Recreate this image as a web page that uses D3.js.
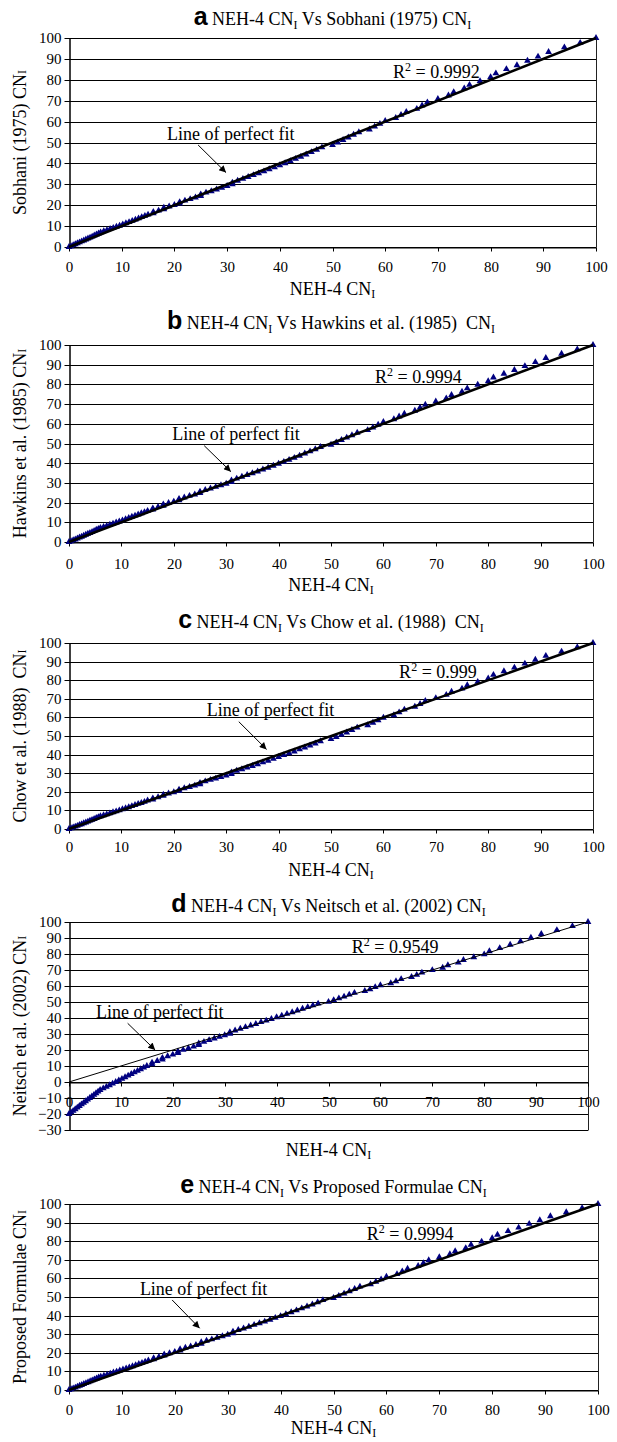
<!DOCTYPE html>
<html><head><meta charset="utf-8">
<script src="https://cdn.jsdelivr.net/npm/d3@7"></script>
<style>
body{margin:0;background:#fff}
svg{display:block}
text{font-family:"Liberation Serif","Times New Roman",serif;white-space:pre;fill:#000}
</style>
</head><body>
<svg id="chart" width="617" height="1442"></svg>
<script>
// NEH-4 CN_I (x) for CN_II = 0..100
const neh4CN = [
 0,0.4,0.8,1.2,1.6,2,2.4,2.8,3.2,3.6,
 4,4.4,4.8,5.2,5.6,6,6.6,7.2,7.8,8.4,
 9,9.6,10.2,10.8,11.4,12,12.6,13.2,13.8,14.4,
 15,16,16,17,18,18,19,20,21,21,
 22,23,24,25,25,26,27,28,29,30,
 31,31,32,33,34,35,36,37,38,39,
 40,41,42,43,44,45,46,47,48,50,
 51,52,53,54,55,57,58,59,60,62,
 63,64,66,67,68,70,72,73,75,76,
 78,80,81,83,85,87,89,91,94,97,
 100];
const sobhaniCN = [
 0,0.4,0.9,1.3,1.8,2.2,2.7,3.1,3.6,4.1,
 4.5,5.0,5.5,6.0,6.5,7.0,7.6,8.1,8.6,9.1,
 9.7,10.2,10.8,11.4,11.9,12.5,13.1,13.7,14.3,14.9,
 15.5,16.1,16.8,17.4,18.1,18.8,19.4,20.1,20.8,21.5,
 22.2,22.9,23.7,24.4,25.2,26.0,26.7,27.5,28.3,29.2,
 30.0,30.8,31.7,32.6,33.5,34.4,35.3,36.2,37.2,38.1,
 39.1,40.1,41.1,42.2,43.2,44.3,45.4,46.5,47.7,48.8,
 50.0,51.2,52.4,53.7,54.9,56.2,57.6,58.9,60.3,61.7,
 63.2,64.6,66.1,67.7,69.2,70.8,72.5,74.1,75.9,77.6,
 79.4,81.3,83.1,85.1,87.0,89.1,91.1,93.3,95.5,97.7,
 100];
const hawkinsCN = [
 0,0.4,0.9,1.3,1.8,2.3,2.7,3.2,3.7,4.2,
 4.6,5.1,5.6,6.2,6.7,7.2,7.7,8.2,8.8,9.3,
 9.9,10.4,11.0,11.6,12.2,12.8,13.4,14.0,14.6,15.2,
 15.8,16.5,17.1,17.8,18.4,19.1,19.8,20.5,21.2,21.9,
 22.6,23.4,24.1,24.9,25.6,26.4,27.2,28.0,28.8,29.6,
 30.5,31.3,32.2,33.1,34.0,34.9,35.8,36.8,37.7,38.7,
 39.7,40.7,41.7,42.7,43.8,44.9,46.0,47.1,48.2,49.4,
 50.6,51.8,53.0,54.2,55.5,56.8,58.1,59.5,60.9,62.3,
 63.7,65.1,66.6,68.2,69.7,71.3,72.9,74.6,76.3,78.0,
 79.8,81.6,83.5,85.4,87.3,89.3,91.3,93.4,95.6,97.8,
 100];
const chowCN = [
 0,0.4,0.9,1.3,1.7,2.2,2.6,3.1,3.5,4.0,
 4.5,4.9,5.4,5.9,6.4,6.9,7.4,7.9,8.4,9.0,
 9.5,10.0,10.6,11.2,11.7,12.3,12.9,13.5,14.0,14.6,
 15.3,15.9,16.5,17.1,17.8,18.4,19.1,19.8,20.5,21.2,
 21.9,22.6,23.3,24.1,24.8,25.6,26.4,27.1,27.9,28.8,
 29.6,30.4,31.3,32.1,33.0,33.9,34.8,35.8,36.7,37.7,
 38.7,39.7,40.7,41.7,42.8,43.8,44.9,46.0,47.2,48.3,
 49.5,50.7,51.9,53.2,54.5,55.8,57.1,58.4,59.8,61.2,
 62.7,64.2,65.7,67.2,68.8,70.4,72.1,73.8,75.5,77.3,
 79.1,80.9,82.9,84.8,86.8,88.9,91.0,93.1,95.4,97.7,
 100];
const neitschCN = [
 -20,-19,-18,-17,-16,-15,-14,-13,-12,-11,
 -10,-9,-8,-7,-6,-5,-4,-3,-2,-1,
 0,1,2,3,4,5,6,7,8,9,
 10,11.1,12.1,13.1,14.1,15.1,16.1,17.1,18.1,19.1,
 20.1,21.1,22.1,23.1,24.1,25.1,26.2,27.2,28.2,29.2,
 30.2,31.2,32.2,33.3,34.3,35.3,36.3,37.4,38.4,39.4,
 40.5,41.5,42.6,43.6,44.7,45.8,46.8,47.9,49.0,50.1,
 51.2,52.3,53.4,54.6,55.7,56.9,58.0,59.3,60.5,61.7,
 63.0,64.3,65.6,67.0,68.4,69.9,71.4,73.0,74.6,76.3,
 78.0,79.8,81.7,83.7,85.8,87.9,90.2,92.5,94.9,97.4,
 100];
const proposedCN = [
 0,0.4,0.9,1.3,1.8,2.3,2.7,3.2,3.7,4.2,
 4.7,5.2,5.7,6.2,6.7,7.2,7.7,8.3,8.8,9.4,
 9.9,10.5,11.0,11.6,12.2,12.8,13.4,14.0,14.6,15.2,
 15.9,16.5,17.1,17.8,18.5,19.1,19.8,20.5,21.2,21.9,
 22.7,23.4,24.2,24.9,25.7,26.5,27.2,28.1,28.9,29.7,
 30.5,31.4,32.3,33.1,34.0,35.0,35.9,36.8,37.8,38.8,
 39.7,40.7,41.8,42.8,43.9,44.9,46.0,47.2,48.3,49.5,
 50.6,51.8,53.1,54.3,55.6,56.9,58.2,59.5,60.9,62.3,
 63.8,65.2,66.7,68.2,69.8,71.4,73.0,74.6,76.3,78.1,
 79.8,81.6,83.5,85.4,87.3,89.3,91.3,93.4,95.6,97.8,
 100];

const panelLetters = ["a","b","c","d","e"];
const titleNames = ["Sobhani (1975) ", "Hawkins et al. (1985)  ", "Chow et al. (1988)  ", "Neitsch et al. (2002) ", "Proposed Formulae "];
const yAxisNames = ["Sobhani (1975) CN", "Hawkins et al. (1985) CN", "Chow et al. (1988)  CN", "Neitsch et al. (2002) CN", "Proposed Formulae CN"];
const r2Labels = ["0.9992","0.9994","0.999","0.9549","0.9994"];
const xTicks = [0,10,20,30,40,50,60,70,80,90,100];
const yTicksStd = [0,10,20,30,40,50,60,70,80,90,100];
const yTicksNeitsch = [-30,-20,-10,0,10,20,30,40,50,60,70,80,90,100];
const fitLabel = "Line of perfect fit";
const xAxisName = "NEH-4 CN";

const seriesY = [sobhaniCN, hawkinsCN, chowCN, neitschCN, proposedCN];
const seriesYTicks = [yTicksStd, yTicksStd, yTicksStd, yTicksNeitsch, yTicksStd];

// layout (pixels) and annotation anchors (data units)
const layout = [
 {left:69,right:596,top:38,bottom:247,yMin:0,titleY:25,xLabelY:272,xTitleY:295,fitW:2.5,fitText:[18.6,51.2],arrow:[24.5,48.8,29.8,35.6],r2:[61.5,80.9]},
 {left:69,right:593,top:345,bottom:542,yMin:0,titleY:329,xLabelY:569,xTitleY:591,fitW:2.5,fitText:[19.7,51.8],arrow:[25.8,48.9,30.9,35.7],r2:[58.4,80.7]},
 {left:69,right:593,top:643,bottom:829,yMin:0,titleY:628,xLabelY:852,xTitleY:876,fitW:2.5,fitText:[26.3,60.8],arrow:[32.4,57.7,37.7,42.8],r2:[63.0,81.2]},
 {left:69,right:588,top:922,bottom:1130,yMin:-30,titleY:912,xLabelY:1107,xTitleY:1156,fitW:1,fitText:[5.2,40],arrow:[11.3,36.7,16.6,20],r2:[54.5,80.6]},
 {left:69,right:598,top:1204,bottom:1390,yMin:0,titleY:1193,xLabelY:1415,xTitleY:1434,fitW:2.5,fitText:[13.4,51.1],arrow:[19.5,48.4,24.7,33.2],r2:[56.3,80.6]}
];

const svg = d3.select("#chart");
svg.append("rect").attr("width",617).attr("height",1442).attr("fill","#fff");
svg.append("defs").append("marker").attr("id","arr")
  .attr("viewBox","0 0 10 10").attr("refX",10).attr("refY",5)
  .attr("markerWidth",9).attr("markerHeight",7).attr("markerUnits","userSpaceOnUse")
  .attr("orient","auto")
  .append("path").attr("d","M0,0L10,5L0,10z").attr("fill","#000");

const crisp = v => Math.round(v) + 0.5;

layout.forEach((L, i) => {
  const g = svg.append("g");
  const x = d3.scaleLinear().domain([0,100]).range([L.left, L.right]);
  const y = d3.scaleLinear().domain([L.yMin,100]).range([L.bottom, L.top]);
  const yTicks = seriesYTicks[i];

  // gridlines
  g.selectAll("line.grid").data(yTicks).join("line").attr("class","grid")
    .attr("x1", L.left).attr("x2", L.right)
    .attr("y1", d => crisp(y(d))).attr("y2", d => crisp(y(d)))
    .attr("stroke","#000").attr("stroke-width",1);
  // right border
  g.append("line").attr("x1", crisp(L.right)).attr("x2", crisp(L.right))
    .attr("y1", crisp(L.top)).attr("y2", crisp(L.bottom))
    .attr("stroke","#222").attr("stroke-width",1);

  // y axis
  const ya = g.append("g").attr("transform", `translate(${crisp(L.left)},0)`)
    .call(d3.axisLeft(y).tickValues(yTicks).tickSize(5).tickPadding(3).tickSizeOuter(0));
  ya.attr("font-size",15).attr("font-family","Liberation Serif, serif");
  ya.selectAll("line").attr("stroke","#000");
  ya.selectAll(".tick").attr("transform", d => `translate(0,${crisp(y(d))})`);
  ya.select(".domain").attr("stroke","#000").attr("stroke-width",1.5);

  // x axis (crosses at 0)
  const y0 = crisp(y(0));
  const xa = g.append("g").attr("transform", `translate(0,${y0})`)
    .call(d3.axisBottom(x).tickValues(xTicks).tickSize(4).tickSizeOuter(0));
  xa.attr("font-size",15).attr("font-family","Liberation Serif, serif");
  xa.selectAll(".tick").attr("transform", d => `translate(${crisp(x(d))},0)`);
  xa.selectAll("line").attr("stroke","#000");
  xa.select(".domain").attr("stroke","#000");
  xa.selectAll("text").attr("y", L.xLabelY - y0).attr("dy", 0);

  // points
  const pts = neh4CN.map((v, j) => [v, seriesY[i][j]]);
  g.selectAll("path.pt").data(pts).join("path").attr("class","pt")
    .attr("d", d3.symbol(d3.symbolTriangle, 20))
    .attr("transform", d => `translate(${x(d[0])},${y(d[1])})`)
    .attr("fill","#000080");

  // line of perfect fit
  g.append("line").attr("x1", x(0)).attr("y1", y(0)).attr("x2", x(100)).attr("y2", y(100))
    .attr("stroke","#000").attr("stroke-width", L.fitW);

  // annotation
  g.append("text").attr("x", x(L.fitText[0])).attr("y", y(L.fitText[1]))
    .attr("font-size",18).text(fitLabel);
  g.append("line").attr("x1", x(L.arrow[0])).attr("y1", y(L.arrow[1]))
    .attr("x2", x(L.arrow[2])).attr("y2", y(L.arrow[3]))
    .attr("stroke","#000").attr("stroke-width",1).attr("marker-end","url(#arr)");

  // R^2
  const r = g.append("text").attr("x", x(L.r2[0])).attr("y", y(L.r2[1])).attr("font-size",18);
  r.append("tspan").text("R");
  r.append("tspan").attr("font-size",12).attr("dy",-7).text("2");
  r.append("tspan").attr("dy",7).text(" = " + r2Labels[i]);

  // title
  const cx = (L.left + L.right) / 2;
  const t = g.append("text").attr("x", cx).attr("y", L.titleY).attr("text-anchor","middle").attr("font-size",18);
  t.append("tspan").attr("font-family","Liberation Sans, Arial, sans-serif").attr("font-weight","bold").attr("font-size",25).text(panelLetters[i]);
  t.append("tspan").text(" NEH-4 CN");
  t.append("tspan").attr("font-size",12).attr("dy",4).text("I");
  t.append("tspan").attr("dy",-4).text(" Vs " + titleNames[i] + "CN");
  t.append("tspan").attr("font-size",12).attr("dy",4).text("I");

  // x title
  const xt = g.append("text").attr("x", cx).attr("y", L.xTitleY).attr("text-anchor","middle").attr("font-size",18);
  xt.append("tspan").text(xAxisName);
  xt.append("tspan").attr("font-size",12).attr("dy",3).text("I");

  // y title
  const cy = (L.top + L.bottom) / 2;
  const yt = g.append("text").attr("transform", `translate(26,${cy}) rotate(-90)`)
    .attr("text-anchor","middle").attr("font-size",18);
  yt.append("tspan").text(yAxisNames[i]);
  yt.append("tspan").attr("font-size",12).text("I");
});
</script>
</body></html>
